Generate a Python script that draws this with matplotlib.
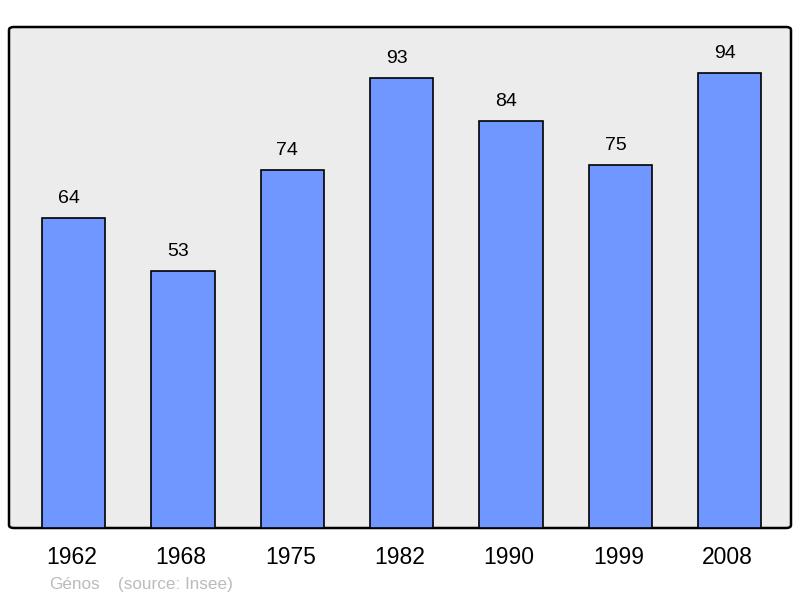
import matplotlib
matplotlib.use("Agg")
import matplotlib.pyplot as plt
from matplotlib.patches import FancyBboxPatch

years = ["1962", "1968", "1975", "1982", "1990", "1999", "2008"]
population = [64, 53, 74, 93, 84, 75, 94]

plt.rcParams['font.family'] = ['Liberation Sans', 'DejaVu Sans']

fig = plt.figure(figsize=(8, 5.98), dpi=100)
ax = fig.add_axes([9/800, 70/598, 782/800, 501/598])
ax.set_facecolor('none')
for s in ax.spines.values():
    s.set_visible(False)

px = 72 / 100  # points per pixel

frame = FancyBboxPatch((0, 0), 1, 1, boxstyle="round,pad=0,rounding_size=0.006",
                       transform=ax.transAxes, facecolor='#ececec', edgecolor='black',
                       linewidth=1.8, zorder=0, clip_on=False)
ax.add_patch(frame)

x = list(range(len(years)))
ax.bar(x, population, width=0.58, color='#7096ff', edgecolor='black',
       linewidth=1.2, zorder=2)
for xi, v in zip(x, population):
    ax.annotate(str(v), (xi, v), xytext=(-5 * px, 15 * px), textcoords='offset points',
                ha='center', va='baseline', fontsize=14, color='black')

for xi, y in zip(x, years):
    ax.annotate(y, (xi, 0), xycoords=('data', 'axes fraction'),
                xytext=(-2 * px, -36.3 * px), textcoords='offset points',
                ha='center', va='baseline', fontsize=16.5, color='black',
                annotation_clip=False)

ax.set_xlim(-0.59, 6.56)
ax.set_ylim(0, 103.5)
ax.set_yticks([])
ax.set_xticks([])

fig.text(49/800, 1 - 589/598, "Génos", fontsize=12.3,
         color='#bbbbbb', ha='left', va='baseline')
fig.text(118/800, 1 - 589/598, "(source: Insee)", fontsize=12.3,
         color='#bbbbbb', ha='left', va='baseline')

fig.savefig("out.png", dpi=100)
